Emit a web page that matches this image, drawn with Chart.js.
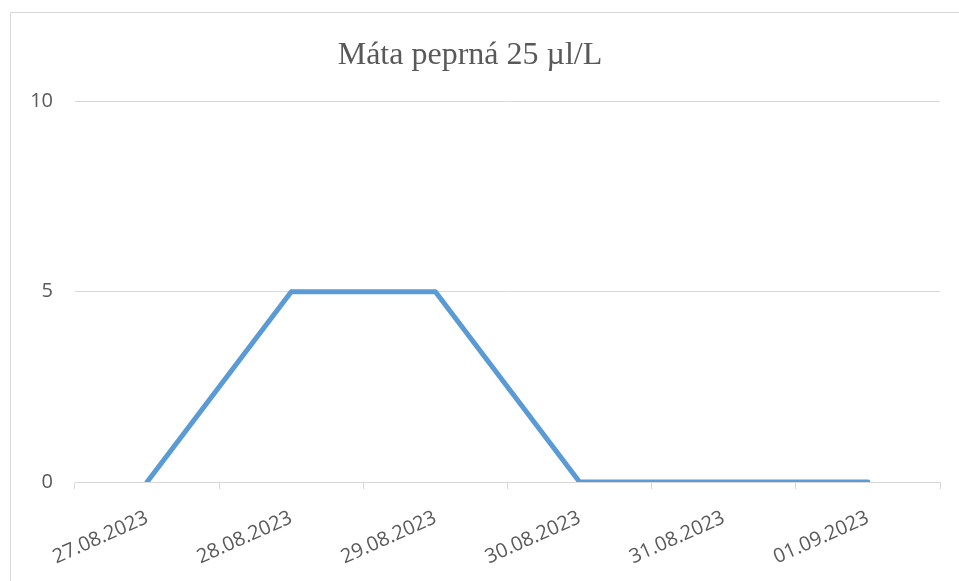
<!DOCTYPE html>
<html>
<head>
<meta charset="utf-8">
<script src="https://cdn.jsdelivr.net/npm/chart.js@4"></script>
<style>
  html, body { margin: 0; padding: 0; background: #ffffff; }
  #frame { position: absolute; left: 10px; top: 12px; width: 1000px; height: 700px; border: 1px solid #d9d9d9; box-sizing: border-box; }
  #wrap { position: absolute; left: 0; top: 0; width: 959px; height: 581px; }
</style>
</head>
<body>
<div id="frame"></div>
<div id="wrap"><canvas id="c" width="959" height="581"></canvas></div>
<script>
const title = 'Máta peprná 25 µl/L';
const categories = ['27.08.2023', '28.08.2023', '29.08.2023', '30.08.2023', '31.08.2023', '01.09.2023'];
const values = [0, 5, 5, 0, 0, 0];
const yTicks = [0, 5, 10];

const textColor = '#595959';
const gridColor = '#d9d9d9';

new Chart(document.getElementById('c'), {
  type: 'line',
  data: {
    labels: categories,
    datasets: [{
      label: title,
      data: values,
      borderColor: '#5b9bd5',
      backgroundColor: '#5b9bd5',
      borderWidth: 5,
      borderCapStyle: 'round',
      borderJoinStyle: 'round',
      pointRadius: 0,
      pointHoverRadius: 0,
      tension: 0,
      fill: false
    }]
  },
  options: {
    responsive: false,
    animation: false,
    layout: { padding: { left: 0, right: 19, top: 0, bottom: 0 } },
    plugins: {
      legend: { display: false },
      tooltip: { enabled: false },
      title: {
        display: true,
        text: title,
        color: textColor,
        font: { family: "'Liberation Serif', 'Times New Roman', serif", size: 32, weight: 'normal' },
        padding: { top: 36, bottom: 27 }
      }
    },
    scales: {
      x: {
        type: 'category',
        offset: true,
        grid: {
          offset: true,
          drawOnChartArea: false,
          drawTicks: true,
          tickLength: 7,
          color: gridColor,
          lineWidth: 1
        },
        border: { display: true, color: gridColor, width: 1 },
        ticks: {
          color: textColor,
          font: { family: "'Open Sans', sans-serif", size: 20 },
          minRotation: 24,
          maxRotation: 24,
          autoSkip: false,
          padding: 17
        },
        afterFit: (s) => { s.height = 99; }
      },
      y: {
        min: 0,
        max: 10,
        afterBuildTicks: (s) => { s.ticks = yTicks.map(v => ({ value: v })); },
        grid: { color: gridColor, lineWidth: 1, drawTicks: false },
        border: { display: false },
        ticks: {
          color: textColor,
          font: { family: "'Open Sans', sans-serif", size: 20 },
          padding: 22
        },
        afterFit: (s) => { s.width = 75; }
      }
    }
  }
});
</script>
</body>
</html>
